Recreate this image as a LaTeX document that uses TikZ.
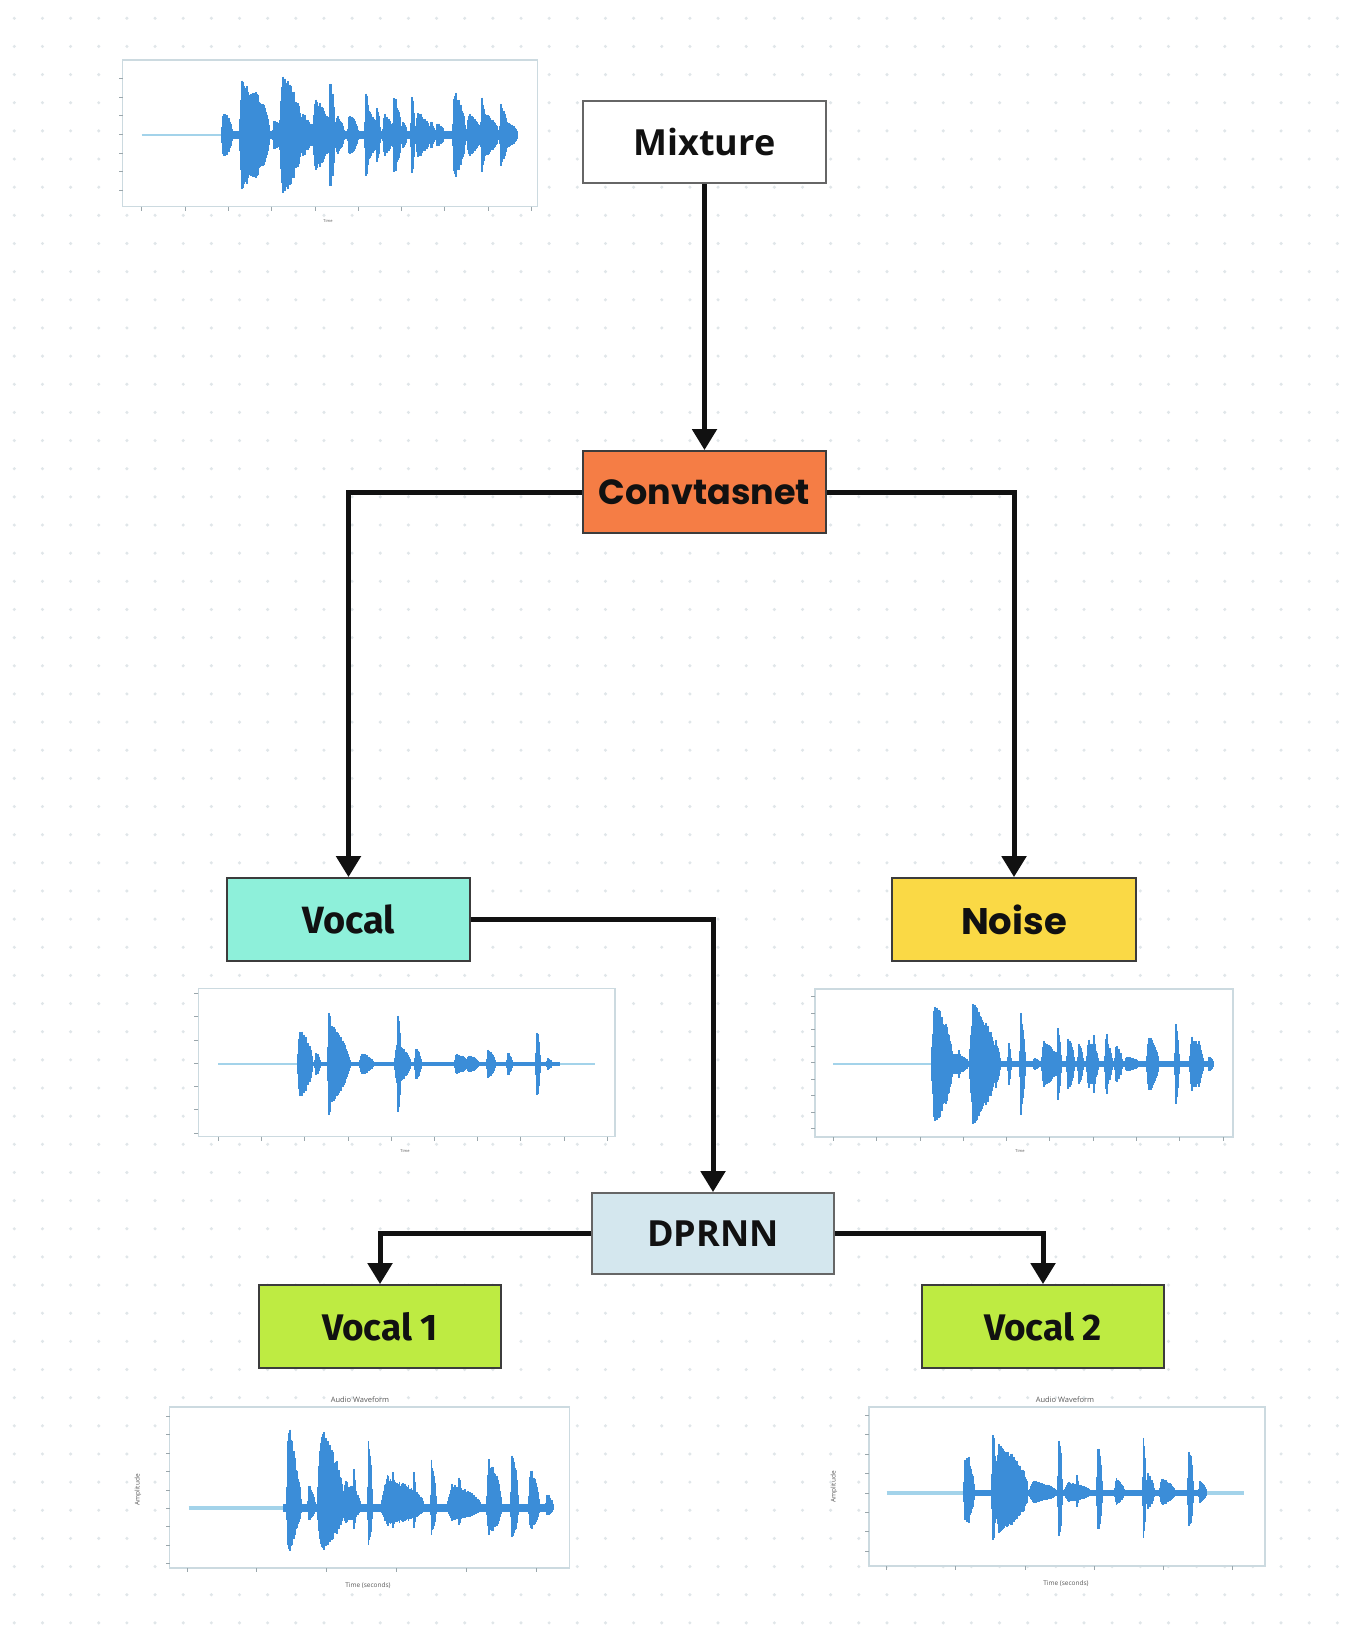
\documentclass[tikz,border=0pt]{standalone}
\usepackage{fontspec}
\setmainfont{Open Sans}
\newfontfamily\popfont{Poppins}
\newfontfamily\firafont{Fira Sans}
\usetikzlibrary{arrows.meta}
\definecolor{dotc}{HTML}{E0E6E9}
\definecolor{framec}{HTML}{CCDAE0}
\definecolor{tickc}{HTML}{9AA6AB}
\definecolor{wavec}{HTML}{3B8DD8}
\definecolor{wavelight}{HTML}{A3D3EA}
\definecolor{convc}{HTML}{F57D45}
\definecolor{vocalc}{HTML}{8EF0DA}
\definecolor{noisec}{HTML}{FAD945}
\definecolor{dprnnc}{HTML}{D4E7EE}
\definecolor{vonec}{HTML}{BEEB42}
\definecolor{inkc}{HTML}{111111}
\definecolor{edgec}{HTML}{3C3C3C}
\newcommand{\drawwave}[4]{%
  \foreach \s/\l/\a in {#4} {%
    \pgfmathtruncatemacro\nn{max(2,round(\l/1.0))}%
    \foreach \k in {0,...,\nn} {%
      \pgfmathsetmacro\xx{\s+\l*\k/\nn}%
      \pgfmathsetmacro\hh{1.5+\a*min(6*\k/\nn+0.25,1)*(1.03-\k/\nn)^0.45*(0.8+0.2*rnd)}%
      \draw[wave] (\xx,{#1-\hh*#2}) -- (\xx,{#1+\hh*#3});
    }%
  }%
}
\newcommand{\plotframe}[4]{%
  \draw[plotframe] (#1,#2) rectangle (#3,#4);
}
\begin{document}
\begin{tikzpicture}[x=1pt,y=-1pt,
  box/.style={draw=edgec, line width=1.8pt, minimum width=243pt, minimum height=82pt, inner sep=0pt, text=inkc},
  conn/.style={draw=inkc, line width=5pt, line join=miter, -{Triangle[width=24pt,length=21pt]}},
  plotframe/.style={draw=framec, line width=1.5pt, fill=white},
  tick/.style={draw=tickc, line width=0.8pt},
  wave/.style={draw=wavec, line width=1.6pt},
  lightbase/.style={draw=wavelight, line width=#1},
  band/.style={fill=wavec},
  axlabel/.style={text=black!65, inner sep=0pt}
]
\pgfmathsetseed{7}
\useasboundingbox (0,0) rectangle (1345,1648);
\fill[white] (0,0) rectangle (1345,1648);
% dot grid
\foreach \i in {0,...,47} {
  \foreach \j in {0,...,58} {
    \fill[dotc] ({14.3+28.15*\i},{18.3+28.15*\j}) circle (1.7);
  }
}

% ---------- plots ----------
% top (mixture)
\plotframe{122.7}{60}{537.3}{206.7}
\foreach \i in {0,...,9} \draw[tick] ({141.7+43.3*\i},206.7) -- ++(0,4);
\foreach \j in {0,...,6} \draw[tick] (122.7,{78.3+18.7*\j}) -- ++(-4,0);
\node[axlabel, font=\fontsize{4}{5}\selectfont] (tlab) at (328,221) {Time};
\draw[lightbase=2.5pt] (141.7,135) -- (223,135);
\fill[band] (222,131) rectangle (516,139);
\drawwave{135}{1}{1}{221.7/10/25, 240/17/64, 251/18/48, 273/8/16, 280/22/64, 300/13/22, 313/18/38, 329/6/64, 336/8/20, 348/10/22, 365/4/52, 367/10/27, 376/4/35, 383/10/22, 393/8/42, 402/5/14, 411/4/44, 416/14/24, 430/5/14, 436/8/12, 453/12/47, 467/14/22, 481/4/46, 483/15/22, 500/8/32, 508/9/12}

% vocal plot
\plotframe{198.3}{988.3}{615}{1136.7}
\foreach \i in {0,...,9} \draw[tick] ({218.3+43.2*\i},1136.7) -- ++(0,4);
\foreach \j in {0,...,6} \draw[tick] (198.3,{993.3+23.3*\j}) -- ++(-4,0);
\node[axlabel, font=\fontsize{4}{5}\selectfont] (vlab) at (405,1151) {Time};
\draw[lightbase=2.5pt] (218.3,1064) -- (595,1064);
\fill[band] (298,1062) rectangle (560,1066);
\drawwave{1064}{1}{1}{298/14/36, 315/5/12, 328/4/64, 329/19/40, 345/5/12, 360/13/10, 395/15/20, 396.7/4/64, 415/6/17, 455/12/10, 467/11/9, 487/8/15, 507/5/12, 536/4/40, 547/5/5}

% noise plot
\plotframe{815}{989}{1233}{1137}
\foreach \i in {0,...,9} \draw[tick] ({833.3+43.3*\i},1137) -- ++(0,4);
\foreach \j in {0,...,8} \draw[tick] (815,{996.7+16.5*\j}) -- ++(-4,0);
\node[axlabel, font=\fontsize{4}{5}\selectfont] (nlab) at (1020,1151) {Time};
\draw[lightbase=2.5pt] (833,1064) -- (933,1064);
\fill[band] (932,1061) rectangle (1213,1067);
\drawwave{1064}{1}{1}{932/20/64, 952/16/10, 958/3/15, 970/25/64, 995/5/25, 1008/3/25, 1020/5/54, 1033/7/5, 1042/15/25, 1057/4/42, 1067/7/30, 1078/5/25, 1087/11/25, 1093/3/35, 1105/7/25, 1106/3/35, 1115/7/20, 1125/13/7, 1147/11/30, 1150/3/35, 1175/4/45, 1190/13/28, 1198/3/30, 1208/5/7}

% vocal 1 plot
\plotframe{169.6}{1407}{569.5}{1568}
\foreach \i in {0,...,5} \draw[tick] ({187+69.8*\i},1568) -- ++(0,4);
\foreach \j in {0,...,8} \draw[tick] (169.6,{1416.3+18.4*\j}) -- ++(-4,0);
\node[axlabel, font=\fontsize{7.5}{8}\selectfont] (v1title) at (360,1400) {Audio Waveform};
\node[axlabel, font=\fontsize{6.5}{7}\selectfont] (v1x) at (368,1586) {Time (seconds)};
\node[axlabel, font=\fontsize{6.5}{7}\selectfont, rotate=90] (v1y) at (138,1490) {Amplitude};
\draw[lightbase=4.5pt] (188.6,1508) -- (285,1508);
\fill[band] (283,1504) rectangle (553,1512);
\drawwave{1508}{1}{0.55}{287/10/94, 294/7/48, 308/7/24, 318/25/83, 343/17/28, 353/3/47, 367.5/5/88, 381.5/42/33, 392/3/42, 413/3/47, 430.6/6/53, 448/32/24, 458/3/42, 486.7/14/52, 511/7/64, 529/10/42, 546/7/14}

% vocal 2 plot
\plotframe{869}{1407}{1265}{1566}
\foreach \i in {0,...,5} \draw[tick] ({886.6+69.2*\i},1566) -- ++(0,4);
\foreach \j in {0,...,7} \draw[tick] (869,{1415.3+19.4*\j}) -- ++(-4,0);
\node[axlabel, font=\fontsize{7.5}{8}\selectfont] (v2title) at (1065,1400) {Audio Waveform};
\node[axlabel, font=\fontsize{6.5}{7}\selectfont] (v2x) at (1066,1584) {Time (seconds)};
\node[axlabel, font=\fontsize{6.5}{7}\selectfont, rotate=90] (v2y) at (834,1487) {Amplitude};
\draw[lightbase=4pt] (886.6,1493) -- (1244,1493);
\fill[band] (964,1490) rectangle (1206,1496);
\drawwave{1493}{1}{0.82}{964/10/40, 968/3/45, 991.8/4/78, 995/32/53, 1030/25/12, 1058/4/70, 1065/25/10, 1076/3/20, 1097/5/58, 1114.6/10/15, 1142.6/4/61, 1147/7/20, 1160/14/15, 1188/5/53, 1199/7/12}

% ---------- nodes ----------
\node[box, draw=black!60, fill=white, font=\bfseries\fontsize{36}{40}\selectfont] (mix) at (704.5,142) {Mixture};
\node[box, fill=convc, font=\popfont\bfseries\fontsize{35}{40}\selectfont] (conv) at (704.5,492) {Convtasnet};
\node[box, fill=vocalc, minimum height=83pt, font=\firafont\bfseries\fontsize{38}{42}\selectfont] (vocal) at (348.5,919.5) {Vocal};
\node[box, fill=noisec, minimum width=244pt, minimum height=83pt, font=\popfont\bfseries\fontsize{37}{42}\selectfont] (noise) at (1014,919.5) {Noise};
\node[box, draw=black!60, fill=dprnnc, minimum width=242pt, minimum height=81pt, font=\bfseries\fontsize{36}{40}\selectfont] (dprnn) at (713,1233.5) {DPRNN};
\node[box, fill=vonec, minimum width=242pt, minimum height=83pt, font=\firafont\bfseries\fontsize{37}{42}\selectfont] (v1) at (380,1326.5) {Vocal 1};
\node[box, fill=vonec, minimum width=242pt, minimum height=83pt, font=\firafont\bfseries\fontsize{37}{42}\selectfont] (v2) at (1043,1326.5) {Vocal 2};

% ---------- connectors ----------
\draw[conn] (mix.south) -- (conv.north);
\draw[conn] (conv.west) -| (vocal.north);
\draw[conn] (conv.east) -| (noise.north);
\draw[conn] (vocal.east) -| (dprnn.north);
\draw[conn] (dprnn.west) -| (v1.north);
\draw[conn] (dprnn.east) -| (v2.north);
\end{tikzpicture}
\end{document}
